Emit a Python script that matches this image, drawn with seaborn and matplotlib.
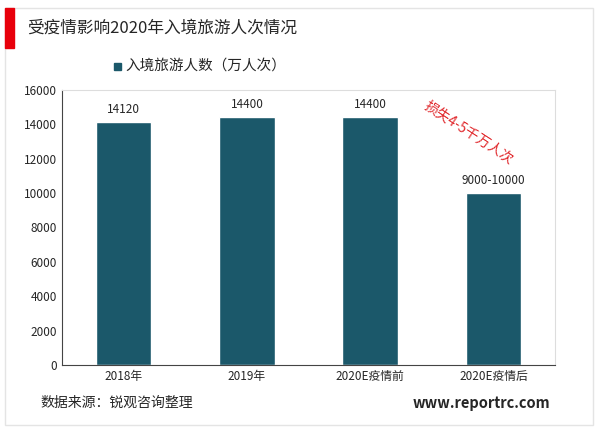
import matplotlib
matplotlib.use("Agg")
import matplotlib.pyplot as plt
import seaborn as sns
import pandas as pd
from matplotlib.patches import Rectangle

categories = ["2018年", "2019年", "2020E疫情前", "2020E疫情后"]
values = [14120, 14400, 14400, 10000]
labels = ["14120", "14400", "14400", "9000-10000"]
yticks = [0, 2000, 4000, 6000, 8000, 10000, 12000, 14000, 16000]

sns.set_style("white")
plt.rcParams['font.family'] = ['Noto Sans CJK SC', 'DejaVu Sans']

df = pd.DataFrame({"cat": categories, "val": values})
color = "#1b586a"

fig = plt.figure(figsize=(6, 4.33), dpi=100)
ax = fig.add_axes([62 / 600, 1 - 365 / 433, 493 / 600, 275 / 433])
sns.barplot(data=df, x="cat", y="val", color=color, width=0.45, saturation=1, ax=ax)
ax.set_ylim(0, 16000)
ax.set_yticks(yticks)
ax.set_xlabel("")
ax.set_ylabel("")
ax.tick_params(labelsize=8.5, length=0)
for s in ["top", "right"]:
    ax.spines[s].set_color("#dddddd")
ax.spines["left"].set_color("#444444")
ax.spines["bottom"].set_color("#444444")
for i, (v, t) in enumerate(zip(values, labels)):
    ax.text(i, v + 350, t, ha="center", va="bottom", fontsize=8.5)
ax.text(2.8, 13500, "损失4-5千万人次", rotation=-33, color="#e0262a", fontsize=10,
        ha="center", va="center")

# outer frame, title, legend, footer
fig.patches.append(Rectangle((5 / 600, 8 / 433), 588 / 600, 417 / 433, transform=fig.transFigure,
                             fill=False, edgecolor="#e4e4e4", lw=1))
fig.patches.append(Rectangle((5 / 600, 1 - 48 / 433), 9 / 600, 40 / 433, transform=fig.transFigure,
                             color="#e8000b"))
fig.text(27 / 600, 1 - 28 / 433, "受疫情影响2020年入境旅游人次情况", fontsize=12, va="center")
fig.patches.append(Rectangle((114 / 600, 1 - 70 / 433), 7 / 600, 7 / 433, transform=fig.transFigure,
                             color=color))
fig.text(125 / 600, 1 - 66 / 433, "入境旅游人数（万人次）", fontsize=10.5, va="center")
fig.text(40 / 600, 1 - 403 / 433, "数据来源：锐观咨询整理", fontsize=10, va="center")
fig.text(550 / 600, 1 - 403 / 433, "www.reportrc.com", fontsize=10.5, fontweight="bold",
         va="center", ha="right")

fig.savefig("out.png", dpi=100)
